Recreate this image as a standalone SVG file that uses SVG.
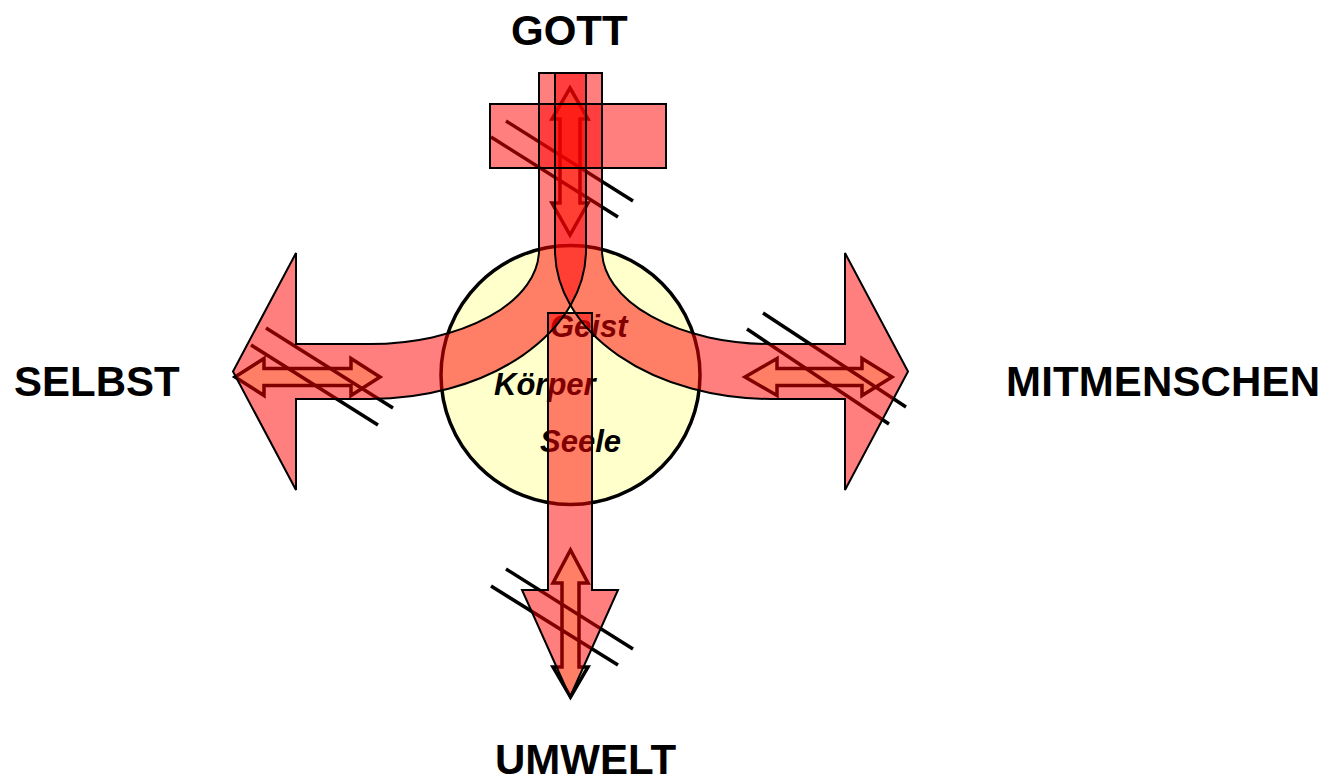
<svg xmlns="http://www.w3.org/2000/svg" width="1330" height="783" viewBox="0 0 1330 783">
<defs>
<style>
.lbl{font-family:"Liberation Sans",Arial,sans-serif;font-weight:bold;font-size:42px;fill:#000}
.inner{font-family:"Liberation Sans",Arial,sans-serif;font-weight:bold;font-style:italic;font-size:31px;fill:#000}
.fill{fill:#ff0000;fill-opacity:0.5;stroke:none}
.edge{fill:none;stroke:#000;stroke-width:2;stroke-linejoin:miter}
.dbl{fill:#ffffcc;stroke:#000;stroke-width:3.5;stroke-linejoin:miter}
.slash{stroke:#000;stroke-width:3.5;fill:none}
</style>
<path id="selbstArrow" d="M233,371.5 L296,253 V344 H370 A169 94 0 0 0 539 250 V73 H586 V250 A216 149 0 0 1 370 399 H296 V490 Z"/>
<path id="mitArrow" d="M908,371.5 L845,253 V344 H771 A169 94 0 0 1 602 250 V73 H555 V250 A216 149 0 0 0 771 399 H845 V490 Z"/>
<path id="umweltArrow" d="M548,313 H592 V590 H618 L570,697 L522,590 H548 Z"/>
<rect id="crossBar" x="490" y="104" width="176" height="64"/>
</defs>
<rect width="1330" height="783" fill="#fff"/>

<g id="person">
<circle cx="570.5" cy="375" r="129.5" fill="#ffffcc" stroke="#000" stroke-width="3.5"/>
<text class="inner" x="550" y="337">Geist</text>
<text class="inner" x="494" y="395">Körper</text>
<text class="inner" x="540" y="452">Seele</text>
</g>

<g id="relations">
<path class="dbl" d="M235,377 L264,358.5 V368.5 H351 V358.5 L380,377 L351,395.5 V385.5 H264 V395.5 Z"/>
<path class="dbl" d="M745,377 L777,358.5 V368.5 H862 V358.5 L892,377 L862,395.5 V385.5 H777 V395.5 Z"/>
<path class="dbl" d="M570,88 L588,119 H580 V203 H588 L570,235 L552,203 H560 V119 H552 Z"/>
<path class="dbl" d="M570.5,550 L588,583 H579 V667 H588 L570.5,697 L553,667 H562 V583 H553 Z"/>
<line class="slash" x1="506" y1="121" x2="633" y2="201"/>
<line class="slash" x1="491" y1="137" x2="618" y2="217"/>
<line class="slash" x1="266" y1="328" x2="393" y2="408"/>
<line class="slash" x1="251" y1="345" x2="378" y2="425"/>
<line class="slash" x1="763" y1="313" x2="906" y2="407"/>
<line class="slash" x1="747" y1="329" x2="889" y2="424"/>
<line class="slash" x1="506" y1="569" x2="633" y2="649"/>
<line class="slash" x1="491" y1="586" x2="618" y2="665"/>
</g>

<g id="connectors">
<use href="#crossBar" class="fill"/>
<use href="#selbstArrow" class="fill"/>
<use href="#mitArrow" class="fill"/>
<use href="#umweltArrow" class="fill"/>
<use href="#crossBar" class="edge"/>
<use href="#selbstArrow" class="edge"/>
<use href="#mitArrow" class="edge"/>
<use href="#umweltArrow" class="edge"/>
</g>

<g id="gott"><text class="lbl" x="511" y="45">GOTT</text></g>
<g id="selbst"><text class="lbl" x="14" y="396">SELBST</text></g>
<g id="mitmenschen"><text class="lbl" x="1006" y="396" textLength="314">MITMENSCHEN</text></g>
<g id="umwelt"><text class="lbl" x="495" y="774">UMWELT</text></g>
</svg>
